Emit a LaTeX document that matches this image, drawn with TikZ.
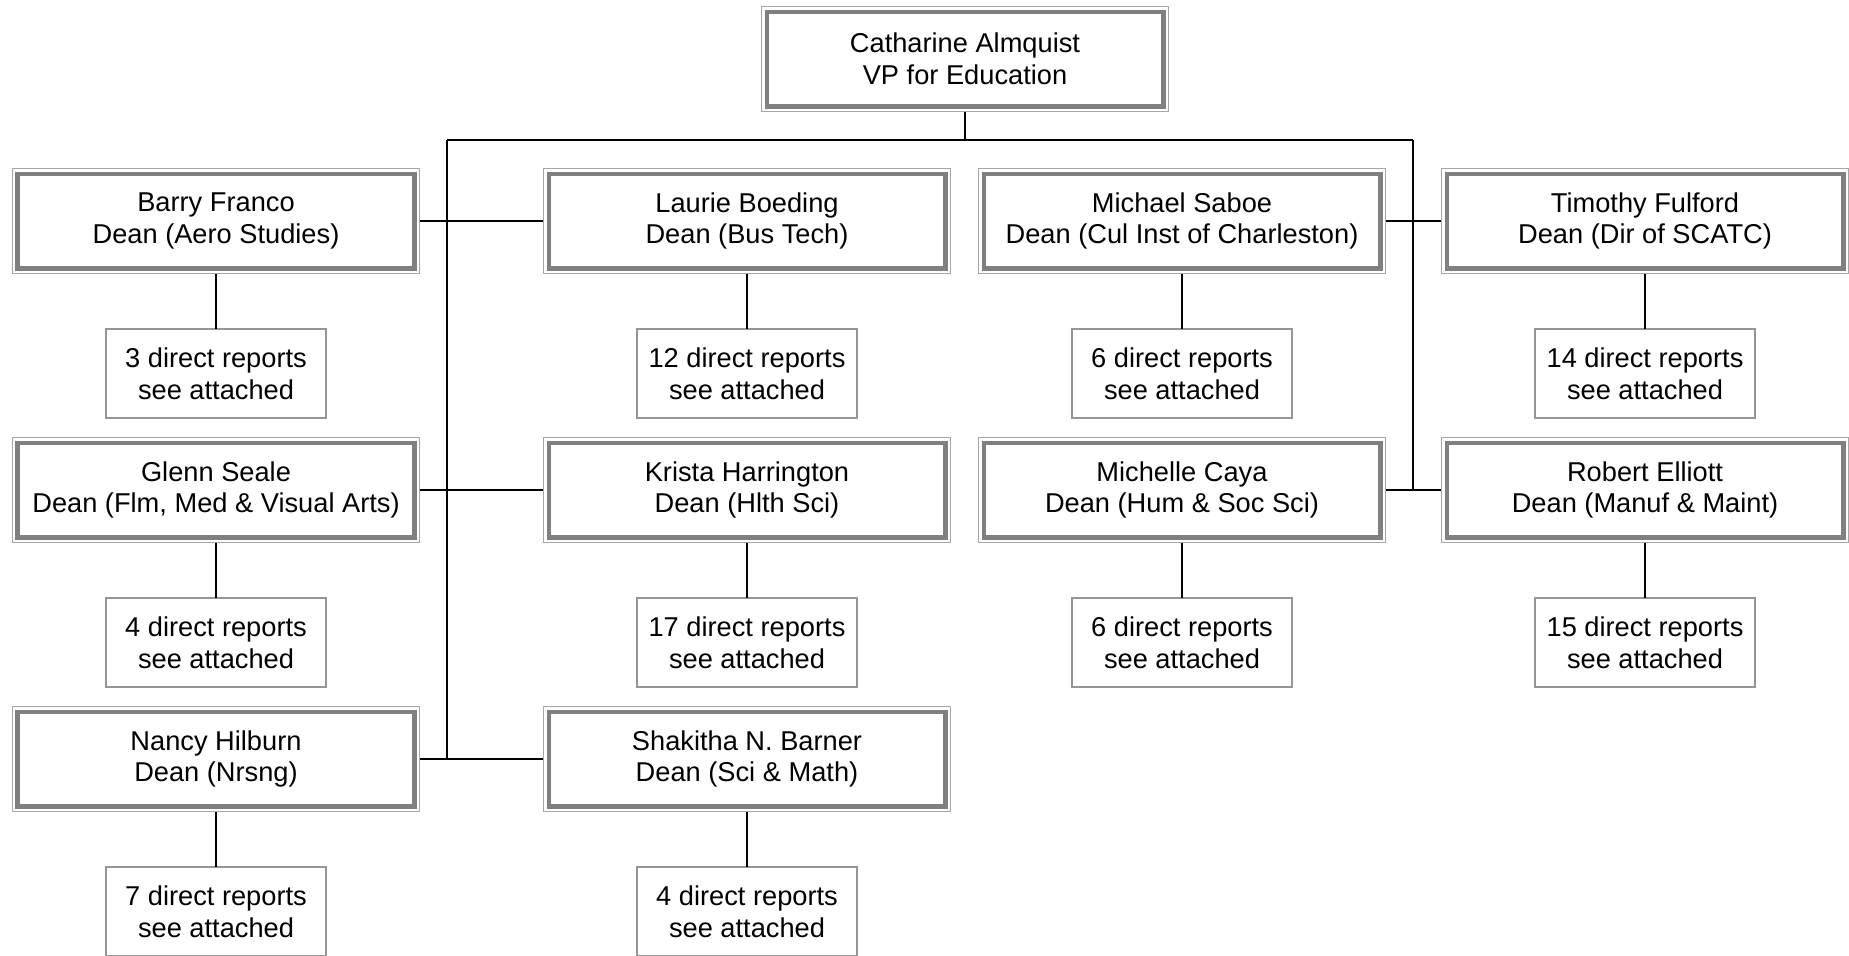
\documentclass[tikz,border=0pt]{standalone}
\usepackage{fontspec}
\setmainfont{Liberation Sans}
\usepackage{xcolor}
\usepackage{tikz}
\usetikzlibrary{positioning}
\definecolor{bandgray}{RGB}{128,128,128}
\definecolor{edgegray}{RGB}{166,166,166}
\definecolor{repgray}{RGB}{150,150,150}

\begin{document}
\begin{tikzpicture}[
  dean/.style={draw=bandgray,line width=0.09cm,fill=white,
    preaction={draw=edgegray,line width=0.23cm},
    preaction={draw=white,line width=0.19cm},
    minimum width=7.93cm,minimum height=1.89cm,outer sep=0.115cm,
    align=center,inner sep=2pt,font=\fontsize{15.5}{18}\selectfont},
  rep/.style={draw=repgray,line width=0.6pt,fill=white,
    minimum width=4.4cm,minimum height=1.78cm,outer sep=0pt,
    align=center,inner sep=2pt,font=\fontsize{15.5}{18}\selectfont},
  conn/.style={line width=1.2pt,black},
]
  \useasboundingbox (-4.32,4.42) rectangle (32.66,-14.68);

  % deans, row by row
  \node[dean] (barry) at (0,0) {Barry Franco\\Dean (Aero Studies)};
  \node[dean,right=2.46cm of barry] (laurie) {Laurie Boeding\\Dean (Bus Tech)};
  \node[dean,right=0.54cm of laurie] (michael) {Michael Saboe\\Dean (Cul Inst of Charleston)};
  \node[dean,right=1.1cm of michael] (timothy) {Timothy Fulford\\Dean (Dir of SCATC)};

  \node[dean,below=3.26cm of barry] (glenn) {Glenn Seale\\Dean (Flm, Med \& Visual Arts)};
  \node[dean,below=3.26cm of laurie] (krista) {Krista Harrington\\Dean (Hlth Sci)};
  \node[dean,below=3.26cm of michael] (michelle) {Michelle Caya\\Dean (Hum \& Soc Sci)};
  \node[dean,below=3.26cm of timothy] (robert) {Robert Elliott\\Dean (Manuf \& Maint)};

  \node[dean,below=3.26cm of glenn] (nancy) {Nancy Hilburn\\Dean (Nrsng)};
  \node[dean,below=3.26cm of krista] (shakitha) {Shakitha N. Barner\\Dean (Sci \& Math)};

  \node[dean] (vp) at (14.98,3.24) {Catharine Almquist\\VP for Education};

  % direct report boxes
  \node[rep,below=1.1cm of barry] (rbarry) {3 direct reports\\see attached};
  \node[rep,below=1.1cm of laurie] (rlaurie) {12 direct reports\\see attached};
  \node[rep,below=1.1cm of michael] (rmichael) {6 direct reports\\see attached};
  \node[rep,below=1.1cm of timothy] (rtimothy) {14 direct reports\\see attached};
  \node[rep,below=1.1cm of glenn] (rglenn) {4 direct reports\\see attached};
  \node[rep,below=1.1cm of krista] (rkrista) {17 direct reports\\see attached};
  \node[rep,below=1.1cm of michelle] (rmichelle) {6 direct reports\\see attached};
  \node[rep,below=1.1cm of robert] (rrobert) {15 direct reports\\see attached};
  \node[rep,below=1.1cm of nancy] (rnancy) {7 direct reports\\see attached};
  \node[rep,below=1.1cm of shakitha] (rshakitha) {4 direct reports\\see attached};

  % bus lines
  \coordinate[below=0.56cm of vp.south] (bus);
  \coordinate[right=0.54cm of barry.east] (lline);
  \coordinate[right=0.54cm of michael.east] (rline);
  \draw[conn] (vp.south) -- (bus);
  \draw[conn] (lline |- bus) -- (rline |- bus);
  \draw[conn] (lline |- bus) -- (lline |- nancy.east);
  \draw[conn] (rline |- bus) -- (rline |- michelle.east);

  \draw[conn] (barry.east) -- (laurie.west);
  \draw[conn] (glenn.east) -- (krista.west);
  \draw[conn] (nancy.east) -- (shakitha.west);
  \draw[conn] (michael.east) -- (timothy.west);
  \draw[conn] (michelle.east) -- (robert.west);

  \foreach \d in {barry,laurie,michael,timothy,glenn,krista,michelle,robert,nancy,shakitha}
    \draw[conn] (\d.south) -- (r\d.north);
\end{tikzpicture}
\end{document}
